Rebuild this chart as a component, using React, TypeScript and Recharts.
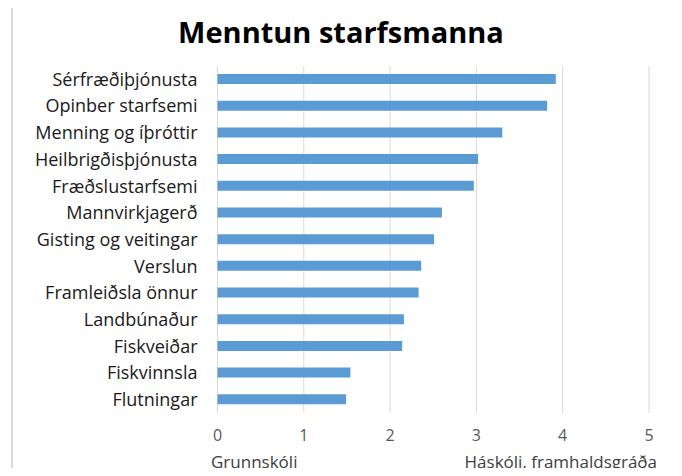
import React from 'react'
import { BarChart, Bar, XAxis, YAxis, CartesianGrid } from 'recharts'

const categories = [
  'Sérfræðiþjónusta',
  'Opinber starfsemi',
  'Menning og íþróttir',
  'Heilbrigðisþjónusta',
  'Fræðslustarfsemi',
  'Mannvirkjagerð',
  'Gisting og veitingar',
  'Verslun',
  'Framleiðsla önnur',
  'Landbúnaður',
  'Fiskveiðar',
  'Fiskvinnsla',
  'Flutningar',
]

const values = [3.92, 3.82, 3.3, 3.02, 2.97, 2.6, 2.51, 2.36, 2.33, 2.16, 2.14, 1.54, 1.49]

const xTicks = [0, 1, 2, 3, 4, 5]

const data = categories.map((name, i) => ({ name, value: values[i] }))

const font = '"Open Sans", sans-serif'

export default function App() {
  return (
    <div
      style={{
        position: 'relative',
        width: 682,
        height: 476,
        margin: -8,
        background: '#fff',
        overflow: 'hidden',
        fontFamily: font,
      }}
    >
      <div
        style={{
          position: 'absolute',
          left: 11,
          top: 6,
          width: 662,
          height: 500,
          border: '2px solid #d9d9d9',
        }}
      />
      <div
        style={{
          position: 'absolute',
          left: 0,
          top: 12,
          width: 682,
          textAlign: 'center',
          fontSize: 29,
          fontWeight: 700,
          color: '#000',
        }}
      >
        Menntun starfsmanna
      </div>
      <div style={{ position: 'absolute', left: 0, top: 0 }}>
        <BarChart
          width={682}
          height={476}
          data={data}
          layout="vertical"
          margin={{ top: 66, right: 33, bottom: 33, left: 0 }}
          barCategoryGap={0}
        >
          <CartesianGrid horizontal={false} stroke="#d9d9d9" />
          <XAxis
            type="number"
            domain={[0, 5]}
            ticks={xTicks}
            axisLine={false}
            tickLine={false}
            tickSize={0}
            tickMargin={17}
            height={30}
            tick={{ fontSize: 16, fill: '#595959', fontFamily: font }}
          />
          <YAxis
            type="category"
            dataKey="name"
            width={217.5}
            axisLine={false}
            tickLine={false}
            tickSize={0}
            tickMargin={20}
            interval={0}
            tick={{ fontSize: 18, fill: '#1a1a1a', fontFamily: font }}
          />
          <Bar dataKey="value" fill="#5b9bd5" barSize={10} isAnimationActive={false} />
        </BarChart>
      </div>
      <div
        style={{
          position: 'absolute',
          left: 211,
          top: 450,
          fontSize: 17,
          lineHeight: '24px',
          color: '#404040',
        }}
      >
        Grunnskóli
      </div>
      <div
        style={{
          position: 'absolute',
          right: 25,
          top: 450,
          fontSize: 17,
          lineHeight: '24px',
          color: '#404040',
        }}
      >
        Háskóli, framhaldsgráða
      </div>
    </div>
  )
}
